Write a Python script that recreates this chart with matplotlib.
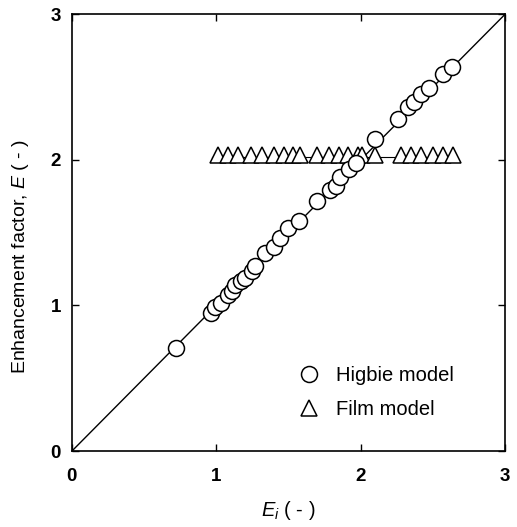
"""Enhancement factor: Higbie vs film model against E_i."""
import matplotlib
matplotlib.use("Agg")
import matplotlib.pyplot as plt
import numpy as np

plt.rcParams["font.family"] = ["Liberation Sans", "DejaVu Sans"]
plt.rcParams["mathtext.fontset"] = "custom"
plt.rcParams["mathtext.rm"] = "Liberation Sans"
plt.rcParams["mathtext.it"] = "Liberation Sans:italic"

# Higbie model points (E_i, E)
higbie_ei = [0.72, 0.96, 0.99, 1.03, 1.08, 1.11, 1.13, 1.17, 1.20, 1.25, 1.27,
             1.34, 1.40, 1.44, 1.50, 1.57, 1.70, 1.79, 1.83, 1.86, 1.92, 1.97,
             2.10, 2.26, 2.33, 2.37, 2.42, 2.47, 2.57, 2.63]
higbie_e = [0.71, 0.95, 0.99, 1.02, 1.07, 1.10, 1.14, 1.17, 1.19, 1.24, 1.27,
            1.36, 1.40, 1.46, 1.53, 1.58, 1.72, 1.79, 1.82, 1.88, 1.94, 1.98,
            2.14, 2.28, 2.36, 2.40, 2.45, 2.49, 2.59, 2.64]

# Film model points
film_ei = [1.01, 1.08, 1.15, 1.24, 1.32, 1.40, 1.47, 1.53, 1.58, 1.70, 1.78,
           1.85, 1.91, 1.98, 2.01, 2.10, 2.28, 2.35, 2.42, 2.50, 2.57, 2.64]
film_e = [2.03] * len(film_ei)

# reference lines
diag = [0, 3]
film_line_x = [0.97, 2.66]
film_line_y = [2.02, 2.02]

fig = plt.figure(figsize=(5.17, 5.27), dpi=100)
ax = fig.add_axes([0.139, 0.144, 0.838, 0.829])

ax.plot(diag, diag, color="k", lw=1.0, zorder=1)
ax.plot(film_line_x, film_line_y, color="k", lw=0.8, zorder=1)
ax.plot(higbie_ei, higbie_e, "o", ms=11.5, mfc="white", mec="k", mew=1.1,
        ls="none", zorder=3, label="Higbie model")
ax.plot(film_ei, film_e, "^", ms=11, mfc="white", mec="k", mew=1.1,
        ls="none", zorder=2, label="Film model")

ax.set_xlim(0, 3); ax.set_ylim(0, 3)
ax.set_xticks([0, 1, 2, 3]); ax.set_yticks([0, 1, 2, 3])
ax.tick_params(direction="in", length=5, width=1, top=True, right=True,
               labelsize=13.5)
ax.tick_params(axis="x", pad=12)
ax.tick_params(axis="y", pad=8)
for lab in ax.get_xticklabels() + ax.get_yticklabels():
    lab.set_fontweight("bold")
for sp in ax.spines.values():
    sp.set_linewidth(1.2)

ax.set_xlabel("$E_i$ ( - )", fontsize=14.5)
ax.xaxis.set_label_coords(0.50, -0.11)
ax.set_ylabel("Enhancement factor, $E$ ( - )", fontsize=14)
ax.yaxis.set_label_coords(-0.095, 0.445)

ax.legend(loc="lower left", bbox_to_anchor=(0.47, 0.033), frameon=False,
          fontsize=14.5, handletextpad=0.6, labelspacing=0.7, numpoints=1,
          handlelength=1.5)

fig.savefig("out.png", dpi=100)
